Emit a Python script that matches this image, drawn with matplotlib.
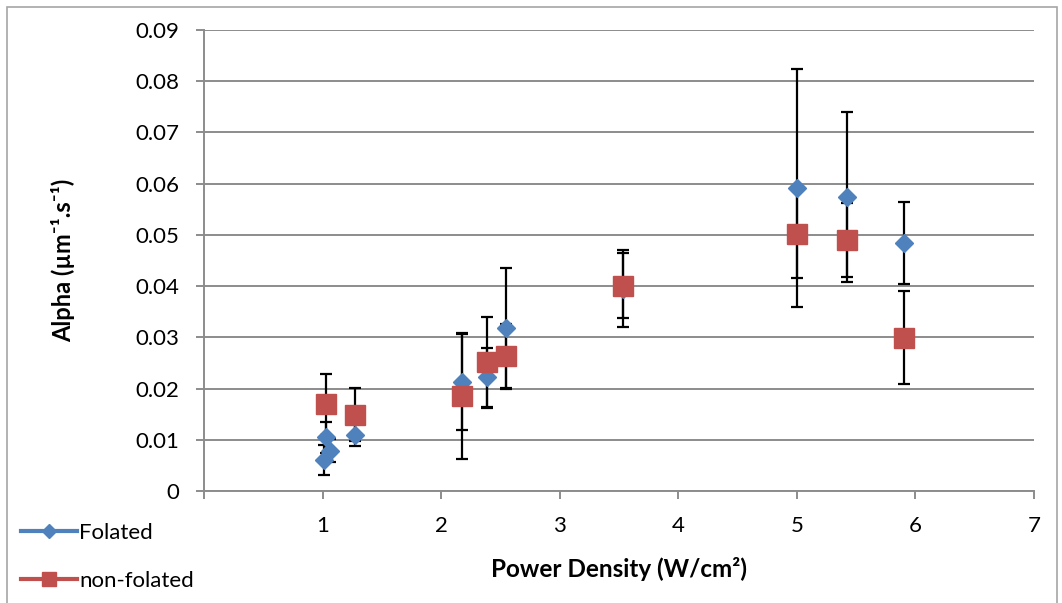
import matplotlib
matplotlib.use('Agg')
import matplotlib.pyplot as plt
from matplotlib.lines import Line2D
from matplotlib.patches import Rectangle

# values
fol_x = [1.01, 1.03, 1.06, 1.27, 2.18, 2.39, 2.55, 3.53, 5.00, 5.42, 5.90]
fol_y = [0.0061, 0.0105, 0.0079, 0.0110, 0.0213, 0.0222, 0.0318, 0.0395, 0.0592, 0.0574, 0.0484]
fol_err = [0.0029, 0.0030, 0.0023, 0.0023, 0.0094, 0.0058, 0.0118, 0.0075, 0.0232, 0.0166, 0.0080]

non_x = [1.03, 1.27, 2.18, 2.39, 2.55, 3.53, 5.00, 5.42, 5.90]
non_y = [0.0169, 0.0149, 0.0185, 0.0251, 0.0264, 0.0401, 0.0502, 0.0490, 0.0299]
non_err = [0.0059, 0.0052, 0.0123, 0.0088, 0.0062, 0.0063, 0.0086, 0.0072, 0.0091]

x_ticks = [0, 1, 2, 3, 4, 5, 6, 7]
x_labels = ['', '1', '2', '3', '4', '5', '6', '7']
y_ticks = [0, 0.01, 0.02, 0.03, 0.04, 0.05, 0.06, 0.07, 0.08, 0.09]
y_labels = ['0', '0.01', '0.02', '0.03', '0.04', '0.05', '0.06', '0.07', '0.08', '0.09']

blue = '#4F81BD'
red = '#C0504D'
grey = '#8C8C8C'

plt.rcParams['font.family'] = ['Lato', 'DejaVu Sans']

fig = plt.figure(figsize=(10.62, 6.03), dpi=100)
ax = fig.add_axes([204/1062, 1-491/603, (1034-204)/1062, (491-30)/603])

# outer chart border
fig.patches.append(Rectangle((7/1062, -0.05), 1050/1062, 1.05 - 7/603,
                             transform=fig.transFigure, fill=False,
                             edgecolor='#A6A6A6', linewidth=1.2))

# error bars first, markers on top
ax.errorbar(fol_x, fol_y, yerr=fol_err, fmt='none', ecolor='black',
            elinewidth=1.6, capsize=4.3, capthick=1.6, zorder=3)
ax.errorbar(non_x, non_y, yerr=non_err, fmt='none', ecolor='black',
            elinewidth=1.6, capsize=4.3, capthick=1.6, zorder=3)
ax.plot(fol_x, fol_y, linestyle='none', marker='D', markersize=9.6,
        color=blue, markeredgecolor=blue, zorder=5)
ax.plot(non_x, non_y, linestyle='none', marker='s', markersize=14.5,
        color=red, markeredgecolor=red, zorder=6)

ax.set_xlim(0, 7)
ax.set_ylim(0, 0.09)
ax.set_xticks(x_ticks)
ax.set_xticklabels(x_labels)
ax.set_yticks(y_ticks)
ax.set_yticklabels(y_labels)
ax.yaxis.grid(True, color=grey, linewidth=1.4)
ax.set_axisbelow(True)

for s in ['top', 'right']:
    ax.spines[s].set_visible(False)
for s in ['left', 'bottom']:
    ax.spines[s].set_color(grey)
    ax.spines[s].set_linewidth(1.4)
ax.tick_params(axis='both', direction='out', color=grey, width=1.4,
               length=6, labelsize=16)
ax.tick_params(axis='x', pad=12)
ax.tick_params(axis='y', pad=12)

ax.set_xlabel('Power Density (W/cm²)', fontsize=17.5, fontweight='bold')
ax.set_ylabel('Alpha (µm⁻¹.s⁻¹)', fontsize=17, fontweight='bold', labelpad=43)
ax.xaxis.set_label_coords(0.5, -0.143)

handles = [
    Line2D([], [], color=blue, linewidth=3, marker='D', markersize=7),
    Line2D([], [], color=red, linewidth=3, marker='s', markersize=10),
]
fig.legend(handles, ['Folated', 'non-folated'], loc='lower left',
           bbox_to_anchor=(0.0085, 0.0), frameon=False, fontsize=16,
           handlelength=2.5, handletextpad=0.1, labelspacing=1.25,
           borderaxespad=0.15)

fig.savefig('out.png', dpi=100)
